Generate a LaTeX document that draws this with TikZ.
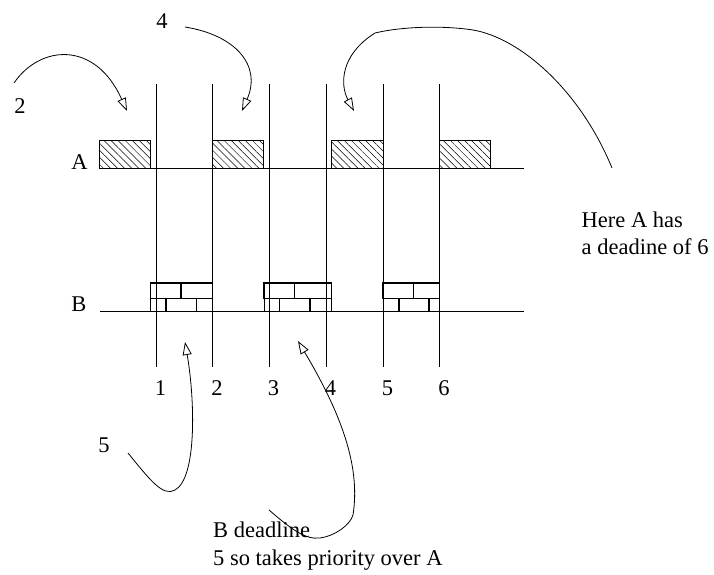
\documentclass[tikz,border=0pt]{standalone}
\usepackage{fontspec}
\setmainfont{Liberation Serif}
\usetikzlibrary{arrows.meta,patterns.meta}
\begin{document}
\begin{tikzpicture}[x=1pt,y=-1pt,
  rule/.style={line width=0.8pt},
  hatchbox/.style={draw,line width=0.8pt,pattern={Lines[angle=-45,distance=5pt,line width=0.5pt]}},
  brick/.style={line width=1.8pt},
  curvy/.style={line width=0.8pt,-{Triangle[open,length=13pt,width=9pt]}},
  lbl/.style={font=\fontsize{22.5}{27}\selectfont, inner sep=0pt, anchor=base},
  txt/.style={font=\fontsize{22.5}{27}\selectfont, inner sep=0pt, anchor=base west}]
\useasboundingbox (0,0) rectangle (714,574);

% vertical time lines
\foreach \x/\n in {156/1,212.5/2,269/3,326/4,383/5,439.5/6}{
  \draw[rule] (\x,84) -- (\x,367);
  \node[lbl] (t\n) at (\x+4.5,395) {\n};
}
% horizontal lines
\draw[rule] (99,168.5) -- (524,168.5);
\draw[rule] (100,311) -- (524,311);
\node[lbl] (la) at (79.5,169) {A};
\node[lbl] (lb) at (79,311) {B};

% hatched boxes on A
\foreach \a/\b in {99/150.5,212.5/263.5,331.5/383,439.5/490.5}{
  \draw[hatchbox] (\a,140.5) rectangle (\b,168.5);
}

% bricks on B
\foreach \a/\b/\m/\p/\q in {150.5/212.5/181/166/196.5, 264/331.5/294.5/279.5/310, 383/439.5/413.5/399/429}{
  \draw[brick] (\a,283) rectangle (\b,298.5);
  \draw[brick] (\m,283) -- (\m,298.5);
  \draw[brick] (\p,298.5) -- (\p,311);
  \draw[brick] (\q,298.5) -- (\q,311);
  \draw[rule] (\a,298.5) -- (\a,311);
  \draw[rule] (\b,298.5) -- (\b,311);
}

% labels
\node[lbl] (n2) at (20,113) {2};
\node[lbl] (n4) at (162,28) {4};
\node[lbl] (n5) at (104,452) {5};
\node[txt] (h1) at (581.5,227) {Here A has};
\node[txt] (h2) at (581.5,254) {a deadine of 6};
\node[txt] (b1) at (213,537) {B deadline};
\node[txt] (b2) at (213,565) {5 so takes priority over A};

% curved arrows
\coordinate (s2) at (14,83);
\coordinate (e2) at (127,111);
\draw[curvy] (s2) .. controls (40,45) and (95,40) .. (e2);

\coordinate (s4) at (185,27);
\coordinate (e4) at (242,111);
\draw[curvy] (s4) .. controls (235,35) and (262,65) .. (e4);

\coordinate (sA) at (612,168);
\coordinate (eA) at (354,111);
\draw[curvy] (sA) .. controls (580,90) and (520,38) .. (473,30)
  .. controls (440,25) and (400,27) .. (375,33)
  .. controls (340,55) and (340,85) .. (eA);

\coordinate (s5) at (128,453);
\coordinate (e5) at (185,342);
\draw[curvy] (s5) .. controls (150,480) and (163,497) .. (175,490)
  .. controls (197,478) and (195,400) .. (e5);

\coordinate (sB) at (269,510);
\coordinate (eB) at (298,341);
\draw[curvy] (sB) .. controls (290,528) and (305,540) .. (320,538)
  .. controls (335,536) and (350,525) .. (353,515)
  .. controls (360,470) and (345,420) .. (eB);
\end{tikzpicture}
\end{document}
